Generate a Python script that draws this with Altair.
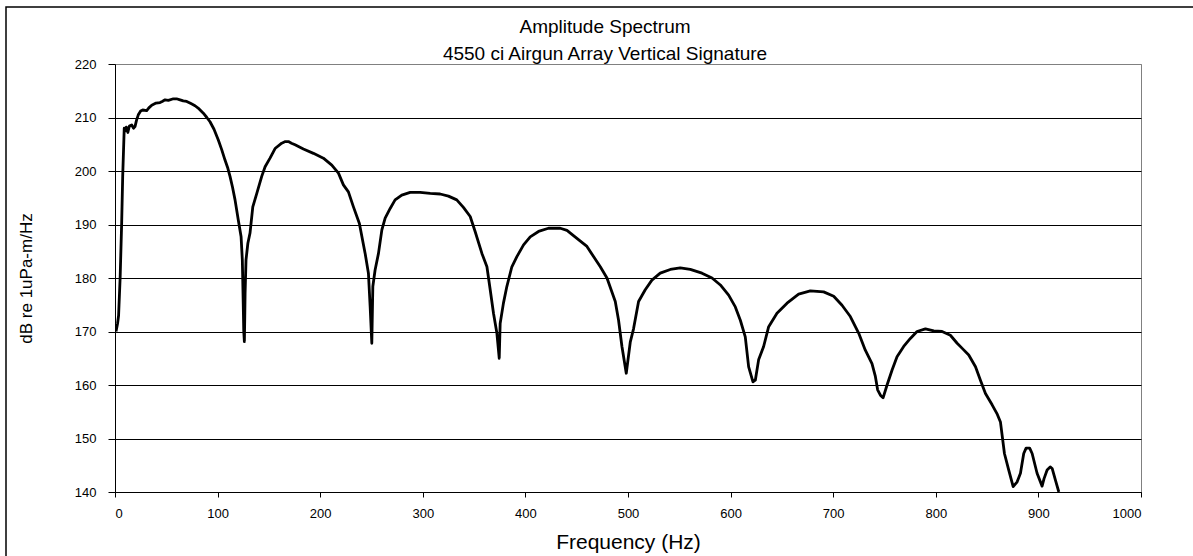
import altair as alt
import pandas as pd

# Frequency (Hz) and amplitude (dB re 1uPa-m/Hz)
freq_hz = [
    1.0, 2.5, 3.5, 5.0, 6.5, 7.5, 8.5, 9.0, 10.0, 11.0, 12.5, 14.0, 16.3, 18.0, 19.5,
    21.0, 22.7, 25.0, 27.0, 30.9, 33.0, 35.8, 40.0, 43.9, 46.0, 48.8, 52.0, 56.9, 60.0,
    63.4, 66.5, 69.9, 74.0, 78.0, 82.0, 86.1, 89.5, 92.6, 96.5, 100.7, 104.0, 107.3,
    110.0, 112.1, 114.5, 117.0, 120.2, 122.9, 124.1, 125.0, 125.5, 126.1, 126.5, 126.8,
    127.7, 129.5, 131.6, 134.3, 138.2, 143.0, 146.3, 151.1, 156.0, 162.5, 166.0, 169.0,
    172.0, 175.5, 183.6, 193.4, 203.1, 211.3, 217.8, 222.6, 227.5, 232.4, 238.2, 243.8,
    247.0, 248.7, 250.3, 251.3, 253.5, 256.8, 260.1, 263.3, 268.2, 273.0, 279.5, 287.7,
    297.4, 307.2, 316.9, 325.0, 333.1, 339.6, 346.2, 351.0, 357.6, 362.5, 365.7, 368.9,
    372.2, 374.5, 375.4, 378.6, 381.9, 386.8, 391.7, 398.2, 404.7, 412.8, 422.5, 434.0,
    440.5, 450.2, 460.0, 466.4, 473.0, 479.5, 487.6, 490.8, 494.1, 498.3, 502.2, 505.4,
    510.3, 516.8, 523.3, 531.4, 541.2, 550.9, 560.7, 572.1, 581.9, 590.0, 598.1, 604.6,
    609.5, 614.3, 617.6, 621.8, 624.1, 627.3, 632.2, 637.1, 645.2, 655.0, 666.3, 677.7,
    690.7, 700.5, 708.6, 716.7, 724.8, 731.3, 737.8, 741.1, 743.3, 746.0, 748.6, 752.5,
    757.4, 762.2, 768.7, 775.2, 781.7, 789.9, 798.0, 806.1, 814.2, 820.8, 826.0, 832.1,
    838.7, 843.5, 848.4, 854.9, 860.0, 863.0, 866.9, 871.1, 875.4, 879.3, 882.5, 885.7,
    888.0, 891.5, 893.9, 898.7, 903.6, 905.5, 908.5, 911.5, 913.4, 916.6, 919.9,
]
level_db = [
    170.0, 171.5, 173.0, 180.0, 190.3, 199.0, 205.0, 208.0, 207.5, 208.2, 207.2, 208.4, 208.6, 208.0, 208.3,
    209.5, 210.5, 211.2, 211.4, 211.3, 211.8, 212.3, 212.7, 212.8, 213.0, 213.3, 213.2, 213.5, 213.5,
    213.3, 213.1, 213.0, 212.6, 212.2, 211.6, 210.8, 210.0, 209.2, 207.8, 205.8, 204.0, 202.0,
    200.5, 199.0, 197.0, 194.6, 190.8, 187.7, 183.4, 175.0, 170.0, 168.1, 173.0, 177.2,
    183.4, 186.5, 188.4, 193.3, 195.8, 199.0, 200.8, 202.4, 204.2, 205.2, 205.5, 205.5,
    205.2, 204.9, 204.1, 203.3, 202.4, 201.1, 199.6, 197.4, 196.1, 193.3, 190.2, 184.6,
    180.9, 174.6, 167.8, 178.4, 181.5, 184.6, 189.0, 191.2, 193.0, 194.6, 195.5, 196.0,
    196.0, 195.8, 195.7, 195.3, 194.6, 193.2, 191.5, 188.7, 184.6, 182.1, 177.8, 173.4,
    169.7, 165.0, 171.5, 175.3, 178.4, 182.1, 184.0, 186.2, 187.7, 188.7, 189.3, 189.3,
    188.9, 187.4, 185.9, 184.0, 182.1, 180.0, 175.6, 172.1, 167.2, 162.2, 168.0, 170.5,
    175.6, 177.8, 179.6, 180.9, 181.6, 181.9, 181.6, 180.9, 180.0, 178.7, 176.8, 174.6,
    172.1, 169.0, 163.4, 160.6, 160.9, 164.7, 167.2, 170.9, 173.4, 175.3, 177.0, 177.6,
    177.4, 176.6, 174.9, 172.8, 169.7, 166.5, 164.0, 161.6, 159.1, 158.1, 157.6, 160.0,
    162.8, 165.3, 167.2, 168.7, 170.0, 170.5, 170.1, 170.0, 169.3, 167.8, 166.8, 165.6,
    163.4, 160.9, 158.4, 156.3, 154.5, 153.1, 147.2, 144.1, 141.0, 141.9, 143.5, 147.2,
    148.2, 148.2, 147.2, 143.5, 141.1, 142.5, 144.1, 144.7, 144.4, 142.2, 140.0,
]

x_ticks = [0, 100, 200, 300, 400, 500, 600, 700, 800, 900, 1000]
y_ticks = [140, 150, 160, 170, 180, 190, 200, 210, 220]

title_lines = ["Amplitude Spectrum", "4550 ci Airgun Array Vertical Signature"]
x_title = "Frequency (Hz)"
y_title = "dB re 1uPa-m/Hz"

FONT = "Liberation Sans"

df = pd.DataFrame({"freq": freq_hz, "db": level_db})

line = alt.Chart(df).mark_line(color="black", strokeWidth=2.8, strokeJoin="round", clip=True).encode(
    x=alt.X(
        "freq:Q",
        scale=alt.Scale(domain=[0, 1000], nice=False),
        axis=alt.Axis(
            values=x_ticks,
            format="d",
            title=x_title,
            grid=False,
            domainColor="black",
            tickColor="black",
            tickSize=5,
            labelPadding=10,
            labelFontSize=13,
            labelFont=FONT,
            labelColor="black",
            titleFont=FONT,
            titleFontSize=21,
            titleFontWeight="normal",
            titleColor="black",
            titleX=513,
            titleY=56,
            titleBaseline="alphabetic",
            titleAlign="center",
        ),
    ),
    y=alt.Y(
        "db:Q",
        scale=alt.Scale(domain=[140, 220], nice=False),
        axis=alt.Axis(
            values=y_ticks,
            format="d",
            title=y_title,
            grid=True,
            gridColor={"condition": {"test": "datum.value === 220", "value": "#808080"}, "value": "black"},
            gridWidth=1,
            domainColor="black",
            tickColor="black",
            tickSize=7,
            labelPadding=12,
            labelFontSize=13,
            labelFont=FONT,
            labelColor="black",
            titleFont=FONT,
            titleFontSize=17,
            titleFontWeight="normal",
            titleColor="black",
            titleAngle=270,
            titleX=-84,
            titleY=214,
            titleBaseline="alphabetic",
            titleAlign="center",
        ),
    ),
)

frame = alt.Chart(pd.DataFrame({"k": [0]})).mark_rect(
    fillOpacity=0, stroke="black", strokeWidth=1.5
).encode(
    x=alt.value(-109), x2=alt.value(1200), y=alt.value(-57), y2=alt.value(600)
)

chart = alt.layer(frame, line).properties(
    width=1026,
    height=428,
    autosize=alt.AutoSizeParams(type="none"),
    padding={"left": 115, "top": 64, "right": 52, "bottom": 64},
    background="white",
    title=alt.TitleParams(
        text=title_lines,
        font=FONT,
        fontSize=19,
        fontWeight="normal",
        color="black",
        anchor="middle",
        frame="group",
        dx=-23,
        offset=-73,
        baseline="alphabetic",
        lineHeight=27,
    ),
).configure_view(stroke="#808080", strokeWidth=1)

chart.save("out.html", embed_options={"renderer": "svg", "actions": False})
